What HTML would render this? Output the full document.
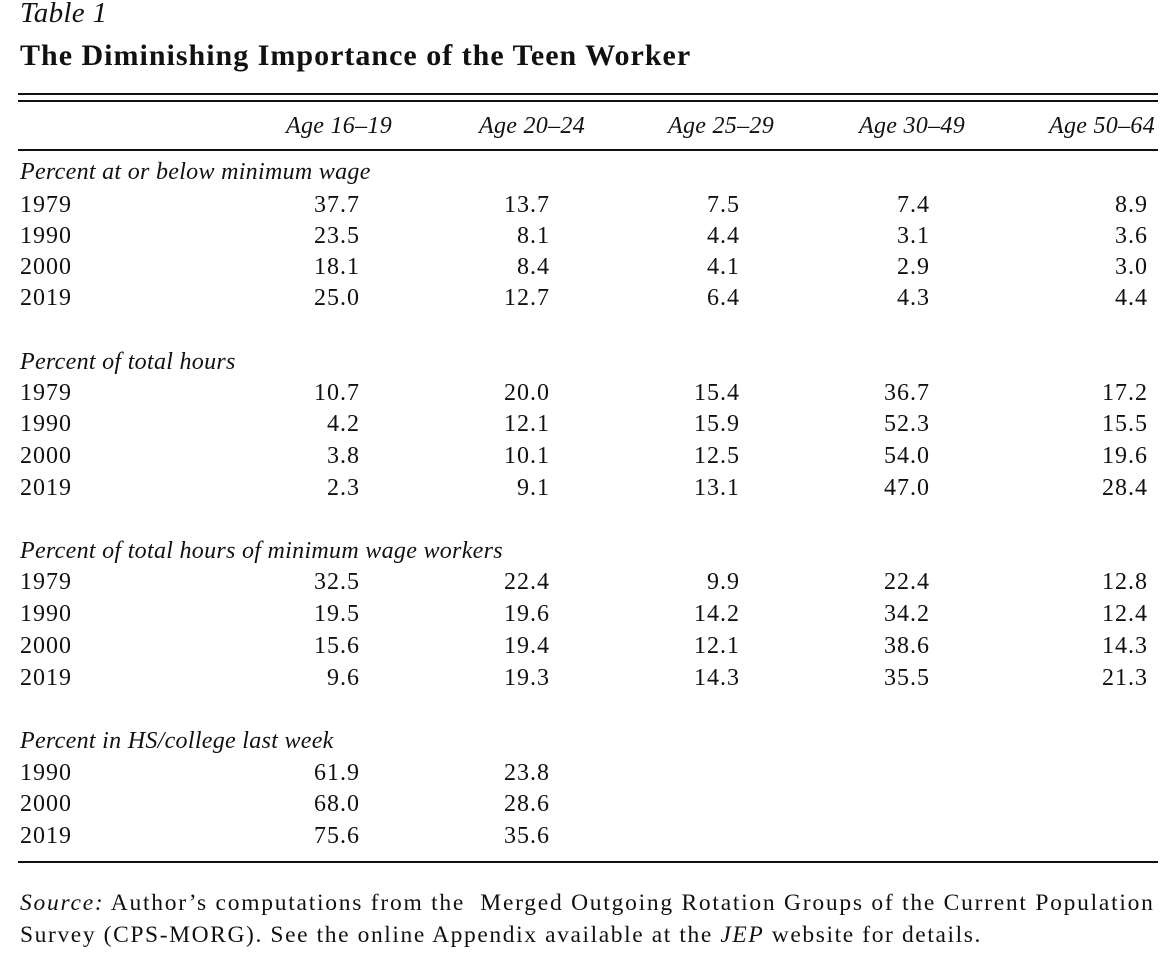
<!DOCTYPE html>
<html><head><meta charset="utf-8"><style>
body{margin:0;width:1176px;height:973px;background:#fff;position:relative;font-family:"Liberation Serif",serif;color:#111;overflow:hidden}
.t{position:absolute;line-height:30px;font-size:24px;white-space:nowrap;letter-spacing:0.3px}
.n{letter-spacing:1px}
.i{font-style:italic}
.rule{position:absolute;left:18px;width:1140px;background:#111}
</style></head><body>
<div class="t i" style="left:20px;top:-2px;font-size:29px">Table 1</div>
<div class="t" style="left:20px;top:41px;font-size:30px;font-weight:bold;letter-spacing:1px">The Diminishing Importance of the Teen Worker</div>
<div class="rule" style="top:93px;height:2px"></div>
<div class="rule" style="top:100px;height:2px"></div>
<div class="rule" style="top:149px;height:2px"></div>
<div class="rule" style="top:861px;height:2px"></div>
<div id="c"></div>
<div class="t" style="left:20px;top:888px;font-size:23.5px;letter-spacing:1.75px"><i>Source:</i> Author’s computations from the&nbsp; Merged Outgoing Rotation Groups of the Current Population</div>
<div class="t" style="left:20px;top:920px;font-size:23.5px;letter-spacing:1.6px">Survey (CPS-MORG). See the online Appendix available at the <i>JEP</i> website for details.</div>
<script>
var c=document.getElementById('c'),h='';
function t(x,y,s,cls,right){h+='<div class="t '+(cls||'')+'" style="'+(right?'right:'+(1176-x)+'px':'left:'+x+'px')+';top:'+(y-15)+'px">'+s+'</div>';}
var hr=[392,585,774,965,1155],hd=['Age 16–19','Age 20–24','Age 25–29','Age 30–49','Age 50–64'];
hd.forEach(function(s,i){t(hr[i],126,s,'i',1);});
var cr=[359,549,739,929,1147];
var secs=[
['Percent at or below minimum wage',172,[205,236,267,298],[['1979',37.7,13.7,7.5,7.4,8.9],['1990',23.5,8.1,4.4,3.1,3.6],['2000',18.1,8.4,4.1,2.9,'3.0'],['2019','25.0',12.7,6.4,4.3,4.4]]],
['Percent of total hours',362,[393,424,456,488],[['1979',10.7,'20.0',15.4,36.7,17.2],['1990',4.2,12.1,15.9,52.3,15.5],['2000',3.8,10.1,12.5,'54.0',19.6],['2019',2.3,9.1,13.1,'47.0',28.4]]],
['Percent of total hours of minimum wage workers',551,[582,614,646,678],[['1979',32.5,22.4,9.9,22.4,12.8],['1990',19.5,19.6,14.2,34.2,12.4],['2000',15.6,19.4,12.1,38.6,14.3],['2019',9.6,19.3,14.3,35.5,21.3]]],
['Percent in HS/college last week',741,[773,804,836],[['1990',61.9,23.8],['2000','68.0',28.6],['2019',75.6,35.6]]]];
secs.forEach(function(s){t(20,s[1],s[0],'i');s[3].forEach(function(row,k){var y=s[2][k];t(20,y,row[0],'n');for(var j=1;j<row.length;j++)t(cr[j-1]+1,y,String(row[j]),'n',1);});});
c.innerHTML=h;
</script>
</body></html>
